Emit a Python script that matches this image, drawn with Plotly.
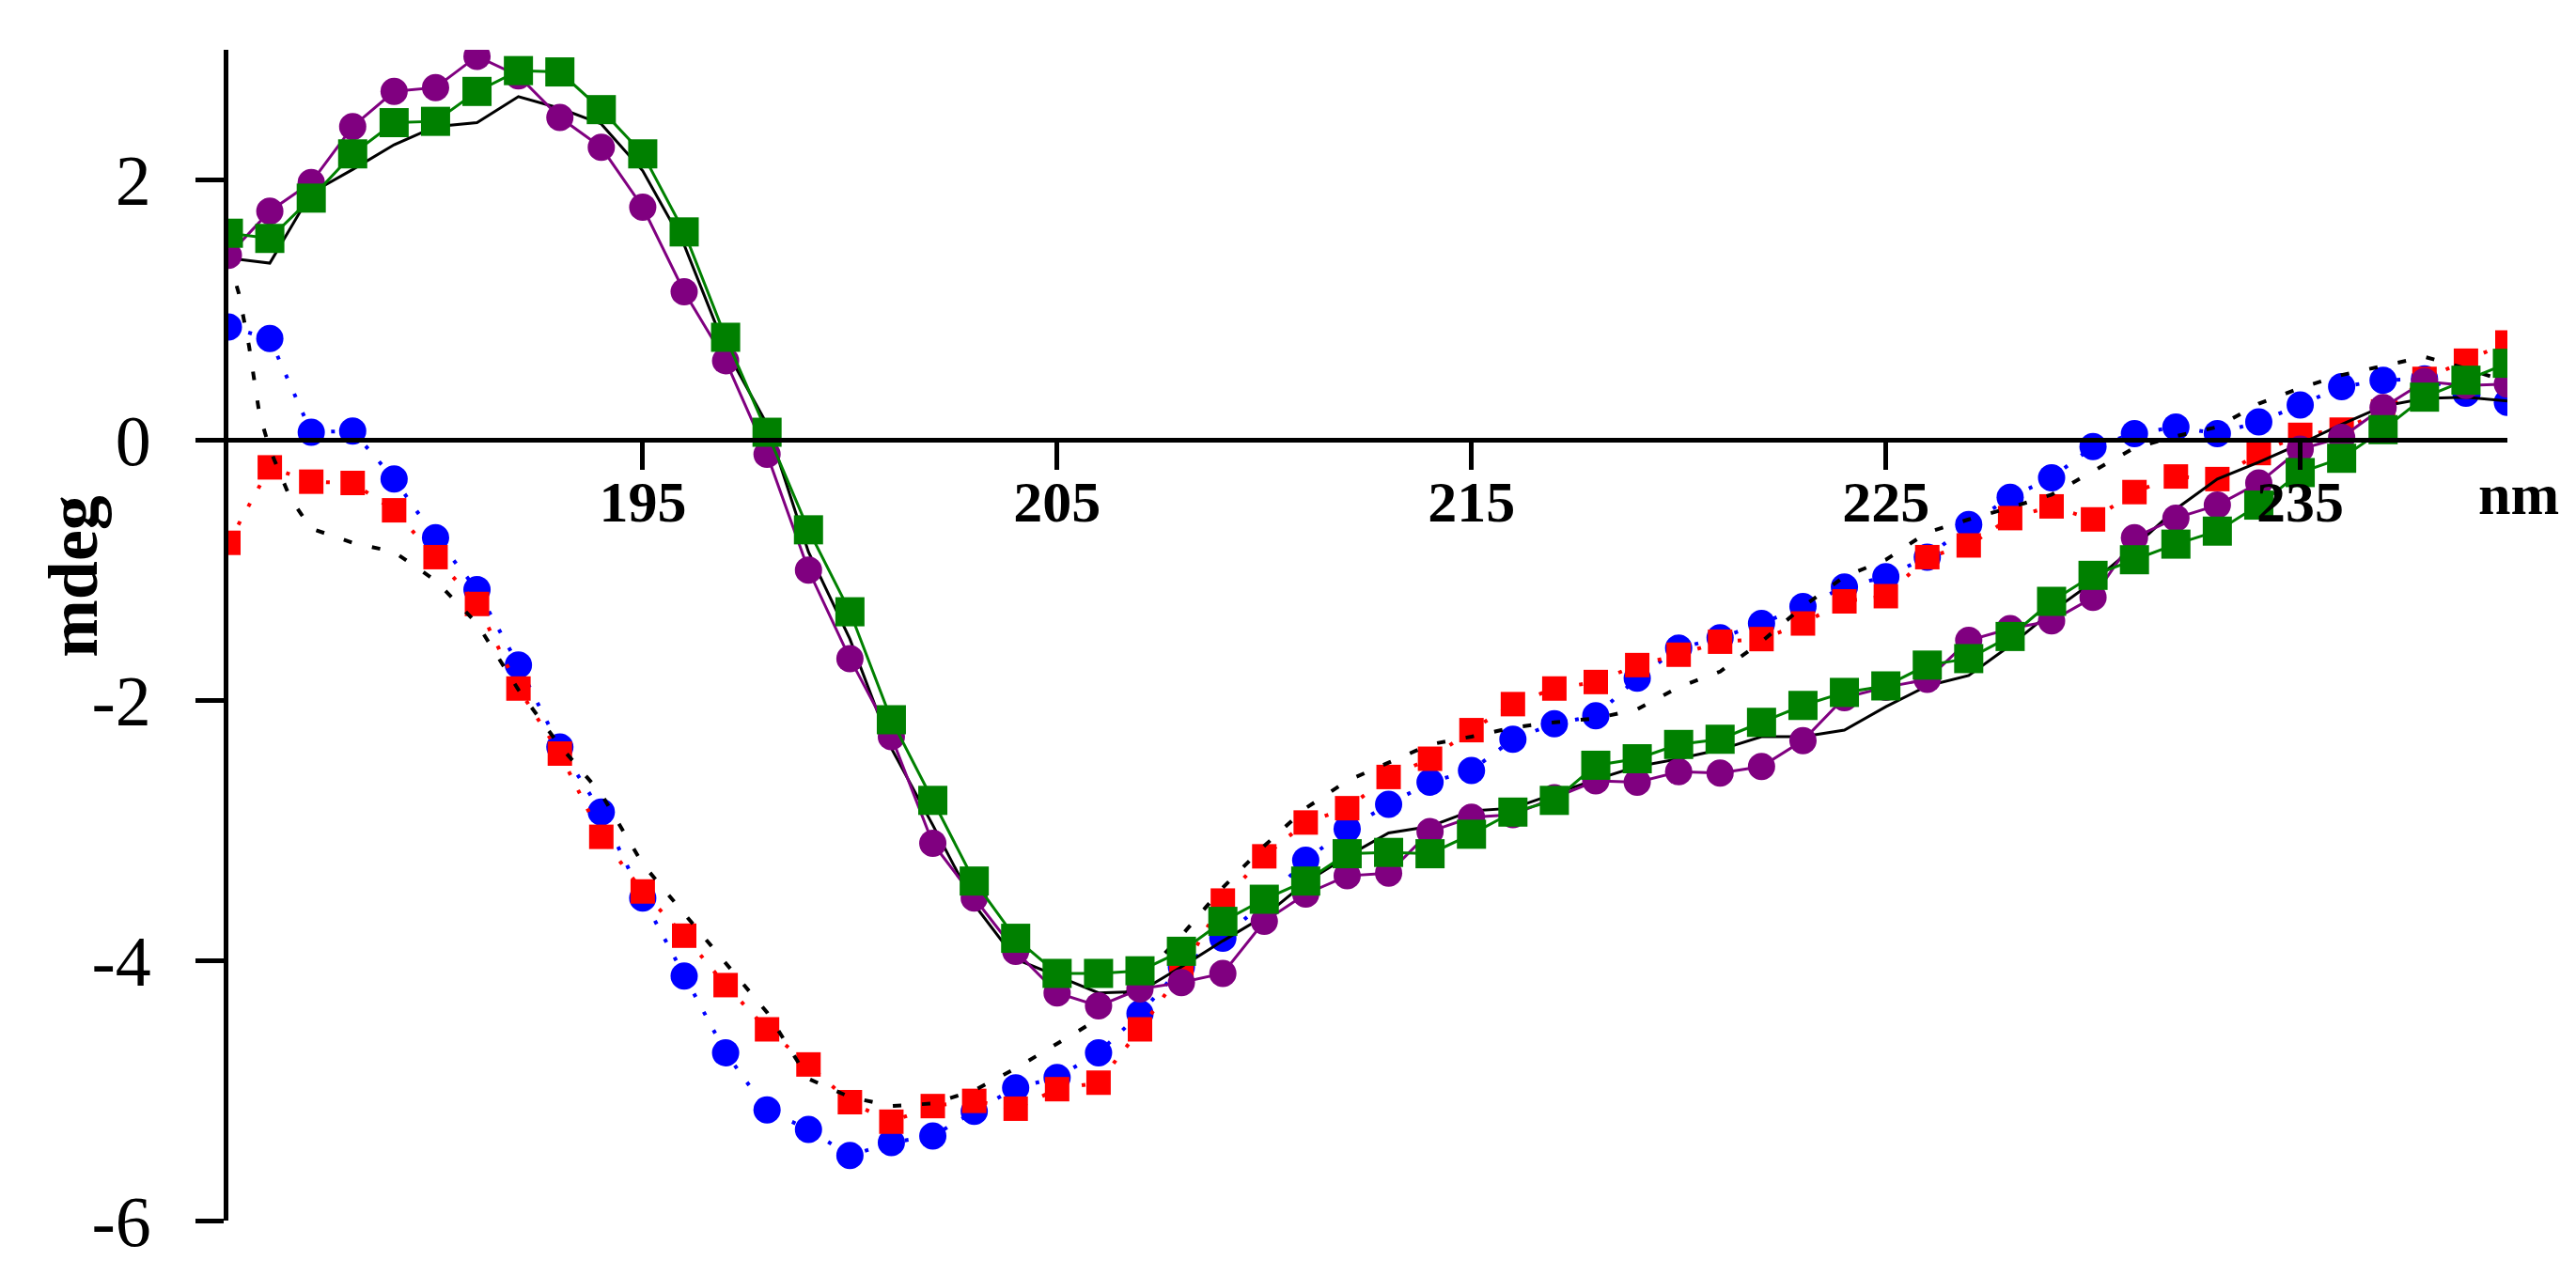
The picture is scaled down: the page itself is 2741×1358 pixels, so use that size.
import plotly.graph_objects as go

# wavelength grid (nm) shared by the marker series
wavelength = list(range(185, 241))

purple_cd = [1.42, 1.76, 1.98, 2.41, 2.68, 2.71, 2.95, 2.80, 2.48, 2.25,
             1.79, 1.14, 0.61, -0.11, -1.00, -1.68, -2.28, -3.10, -3.52, -3.93,
             -4.25, -4.35, -4.22, -4.17, -4.10, -3.70, -3.49, -3.35, -3.33, -3.01,
             -2.90, -2.88, -2.75, -2.62, -2.63, -2.55, -2.56, -2.51, -2.31, -1.98,
             -1.90, -1.84, -1.54, -1.45, -1.39, -1.21, -0.75, -0.60, -0.50, -0.33,
             -0.07, 0.02, 0.25, 0.45, 0.42, 0.43]

green_cd = [1.59, 1.55, 1.86, 2.20, 2.44, 2.45, 2.68, 2.84, 2.83, 2.54,
            2.20, 1.60, 0.79, 0.06, -0.69, -1.32, -2.15, -2.77, -3.39, -3.83,
            -4.10, -4.10, -4.08, -3.93, -3.70, -3.53, -3.39, -3.18, -3.17, -3.18,
            -3.03, -2.86, -2.77, -2.50, -2.45, -2.34, -2.30, -2.17, -2.04, -1.94,
            -1.89, -1.73, -1.68, -1.51, -1.24, -1.04, -0.92, -0.80, -0.70, -0.50,
            -0.25, -0.14, 0.08, 0.33, 0.46, 0.59]

blue_cd = [0.87, 0.78, 0.06, 0.07, -0.30, -0.75, -1.15, -1.73, -2.36, -2.86,
           -3.52, -4.12, -4.71, -5.15, -5.30, -5.50, -5.40, -5.35, -5.16, -4.98,
           -4.90, -4.71, -4.41, -4.05, -3.83, -3.55, -3.23, -2.99, -2.80, -2.63,
           -2.54, -2.30, -2.18, -2.12, -1.83, -1.60, -1.52, -1.41, -1.28, -1.13,
           -1.05, -0.90, -0.65, -0.44, -0.29, -0.05, 0.05, 0.10, 0.05, 0.14,
           0.27, 0.41, 0.46, 0.47, 0.36, 0.29]

red_cd = [-0.79, -0.21, -0.32, -0.33, -0.54, -0.90, -1.26, -1.91, -2.41, -3.05,
          -3.47, -3.81, -4.19, -4.53, -4.80, -5.09, -5.24, -5.12, -5.08, -5.14,
          -4.99, -4.94, -4.53, -4.09, -3.54, -3.20, -2.94, -2.83, -2.59, -2.45,
          -2.23, -2.03, -1.91, -1.86, -1.73, -1.65, -1.55, -1.53, -1.41, -1.24,
          -1.20, -0.90, -0.81, -0.60, -0.51, -0.61, -0.40, -0.28, -0.30, -0.10,
          0.04, 0.08, 0.22, 0.47, 0.61, 0.75]

black_solid_cd = [1.40, 1.36, 1.90, 2.08, 2.27, 2.41, 2.44, 2.64, 2.55, 2.43,
                  2.07, 1.50, 0.70, 0.12, -0.86, -1.53, -2.37, -2.96, -3.57, -3.99,
                  -4.12, -4.25, -4.24, -4.05, -3.85, -3.66, -3.40, -3.20, -3.02, -2.97,
                  -2.85, -2.83, -2.72, -2.61, -2.51, -2.45, -2.38, -2.28, -2.28, -2.23,
                  -2.05, -1.89, -1.81, -1.58, -1.32, -1.09, -0.82, -0.53, -0.30, -0.17,
                  -0.03, 0.12, 0.26, 0.32, 0.33, 0.30]

# dashed black trace has a few extra points where it drops steeply at the start
black_dash_nm = [185, 185.25, 185.5, 185.75, 186, 186.5] + list(range(187, 241))
black_dash_cd = [1.40, 1.13, 0.72, 0.20, -0.07, -0.45,
                 -0.68, -0.79, -0.86, -1.08, -1.41, -1.92, -2.35, -2.72, -3.26, -3.64,
                 -4.02, -4.40, -4.91, -5.05, -5.12, -5.10, -5.00, -4.83, -4.64, -4.45,
                 -4.15, -3.81, -3.44, -3.12, -2.83, -2.62, -2.48, -2.34, -2.28, -2.21,
                 -2.17, -2.14, -2.07, -1.90, -1.78, -1.55, -1.28, -1.05, -0.92, -0.71,
                 -0.61, -0.52, -0.42, -0.24, -0.06, 0.03, 0.10, 0.28, 0.40, 0.50,
                 0.57, 0.64, 0.55, 0.45]

x_ticks = [195, 205, 215, 225, 235]
y_ticks = [-6, -4, -2, 0, 2]
y_labels = ["-6", "-4", "-2", "0", "2"]

serif = "Liberation Serif"

fig = go.Figure()

fig.add_trace(go.Scatter(
    x=wavelength, y=blue_cd, mode="lines+markers",
    line=dict(color="#0000ff", width=4, dash="4px,18px"),
    marker=dict(symbol="circle", size=29, color="#0000ff"),
))
fig.add_trace(go.Scatter(
    x=wavelength, y=red_cd, mode="lines+markers",
    line=dict(color="#ff0000", width=4, dash="4px,18px"),
    marker=dict(symbol="square", size=26, color="#ff0000"),
))
fig.add_trace(go.Scatter(
    x=black_dash_nm, y=black_dash_cd, mode="lines",
    line=dict(color="black", width=4, dash="9px,22px"),
))
fig.add_trace(go.Scatter(
    x=wavelength, y=black_solid_cd, mode="lines",
    line=dict(color="black", width=3),
))
fig.add_trace(go.Scatter(
    x=wavelength, y=purple_cd, mode="lines+markers",
    line=dict(color="#800080", width=3),
    marker=dict(symbol="circle", size=29, color="#800080"),
))
fig.add_trace(go.Scatter(
    x=wavelength, y=green_cd, mode="lines+markers",
    line=dict(color="#008000", width=3),
    marker=dict(symbol="square", size=31, color="#008000"),
))

fig.update_layout(
    width=2741, height=1358,
    margin=dict(l=235, r=81, t=45, b=67),
    plot_bgcolor="white", paper_bgcolor="white",
    showlegend=False,
    font=dict(family=serif, color="black"),
    xaxis=dict(
        range=[185, 240], anchor="free", position=6 / 9,
        showline=True, linewidth=5, linecolor="black",
        ticks="outside", ticklen=29, tickwidth=5, tickcolor="black",
        tickvals=x_ticks, ticktext=["<b>%d</b>" % t for t in x_ticks],
        ticklabelstandoff=-20,
        tickfont=dict(family=serif, size=62, color="black"),
        showgrid=False, zeroline=False,
    ),
    yaxis=dict(
        range=[-6, 3],
        showline=True, linewidth=5, linecolor="black",
        ticks="outside", ticklen=30, tickwidth=5, tickcolor="black",
        tickvals=y_ticks, ticktext=y_labels, ticklabelstandoff=32,
        tickfont=dict(family=serif, size=76, color="black"),
        showgrid=False, zeroline=False,
    ),
    annotations=[
        dict(text="<b>mdeg</b>", xref="paper", yref="paper", x=-0.068, y=0.55,
             textangle=-90, showarrow=False, xanchor="center", yanchor="middle",
             font=dict(family=serif, size=74, color="black")),
        dict(text="<b>nm</b>", xref="paper", yref="paper", x=1.005, y=0.62,
             showarrow=False, xanchor="center", yanchor="middle",
             font=dict(family=serif, size=62, color="black")),
    ],
)

fig.write_html("out.html")
